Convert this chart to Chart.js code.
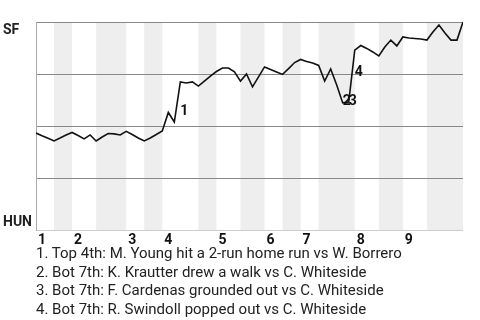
<!DOCTYPE html>
<html>
<head>
<meta charset="utf-8">
<script src="https://cdn.jsdelivr.net/npm/chart.js@4/dist/chart.umd.min.js"></script>
<style>
body { margin: 0; background: #fff; font-family: Roboto, sans-serif; }
#wrap { position: relative; width: 480px; height: 250px; }
#notes { position: absolute; top: 244px; left: 36px; font-size: 15px; line-height: 18.5px; color: #222; white-space: nowrap; }
</style>
</head>
<body>
<div id="wrap"><canvas id="wpchart" width="480" height="250"></canvas></div>
<div id="notes"></div>
<script>
// SF win probability (%) after each plate appearance, 0 = game start
var winProb = [
  46.6, 45.3, 44.1, 42.8, 44.2, 45.7, 46.9, 45.4, 43.8, 45.7,
  42.8, 44.7, 46.4, 46.2, 45.7, 47.4, 45.9, 44.2, 42.8, 44.2,
  45.9, 47.6, 56.5, 51.9, 71.2, 70.7, 71.2, 69.2, 71.6, 74.0,
  76.2, 77.9, 77.9, 76.0, 71.6, 75.0, 68.8, 73.6, 78.4, 77.2,
  76.0, 74.8, 77.6, 80.5, 82.0, 81.0, 80.3, 79.1, 71.6, 77.4,
  69.7, 61.1, 61.5, 86.5, 88.7, 87.3, 85.6, 83.7, 88.0, 91.3,
  88.5, 92.8, 92.3, 92.1, 91.8, 91.3, 95.2, 98.6, 94.7, 91.3,
  91.3, 100
]
// plate appearance index where each half inning starts (last = game end)
var halfInnings = [0, 3, 6, 10, 15, 18, 21, 27, 30, 34, 38, 41, 44, 47, 53, 57, 61, 65, 71]
var inningLabels = ['1', '2', '3', '4', '5', '6', '7', '8', '9']
var teams = ['SF', 'HUN']

var eventIdx = [24, 51, 52, 53]
var eventLabelY = [55.3, 60.3, 60.3, 74.0]
var eventText = [
  'Top 4th: M. Young hit a 2-run home run vs W. Borrero',
  'Bot 7th: K. Krautter drew a walk vs C. Whiteside',
  'Bot 7th: F. Cardenas grounded out vs C. Whiteside',
  'Bot 7th: R. Swindoll popped out vs C. Whiteside'
]

var points = []
for (var i = 0; i < winProb.length; i++) {
  points.push({x: i, y: winProb[i]})
}

var gamePlugin = {
  id: 'game',
  beforeDraw: function(chart) {
    var ctx = chart.ctx, a = chart.chartArea, xs = chart.scales.x
    ctx.save()
    ctx.fillStyle = '#eeeeee'
    // bottom halves are shaded
    for (var i = 1; i < halfInnings.length - 1; i += 2) {
      var x0 = xs.getPixelForValue(halfInnings[i])
      var x1 = xs.getPixelForValue(halfInnings[i + 1])
      ctx.fillRect(x0, a.top, x1 - x0, a.bottom - a.top)
    }
    ctx.restore()
  },
  afterDraw: function(chart) {
    var ctx = chart.ctx, a = chart.chartArea, xs = chart.scales.x, ys = chart.scales.y
    ctx.save()
    ctx.textAlign = 'left'
    ctx.textBaseline = 'alphabetic'
    ctx.fillStyle = '#222'
    ctx.font = 'bold 14px Roboto'
    ctx.fillText(teams[0], 3, a.top + 12)
    ctx.fillText(teams[1], 3, a.bottom - 4)

    ctx.fillStyle = '#111'
    for (var i = 0; i < inningLabels.length; i++) {
      ctx.fillText(inningLabels[i], xs.getPixelForValue(halfInnings[i * 2]) + 2, a.bottom + 14)
    }
    for (var k = 0; k < eventIdx.length; k++) {
      ctx.fillText(String(k + 1), xs.getPixelForValue(eventIdx[k]), ys.getPixelForValue(eventLabelY[k]))
    }
    ctx.restore()
  }
}

var ctx = document.getElementById('wpchart').getContext('2d')
new Chart(ctx, {
  type: 'line',
  data: {
    datasets: [{
      data: points,
      borderColor: '#111',
      borderWidth: 1.6,
      pointRadius: 0,
      tension: 0,
      fill: false
    }]
  },
  options: {
    responsive: false,
    animation: false,
    devicePixelRatio: 1,
    layout: { padding: { left: 36, right: 17, top: 22, bottom: 20 } },
    plugins: { legend: { display: false }, tooltip: { enabled: false } },
    scales: {
      x: { type: 'linear', min: 0, max: winProb.length - 1, display: false },
      y: {
        min: 0, max: 100,
        ticks: { display: false, stepSize: 25 },
        grid: {
          drawTicks: false,
          color: function(c) { return c.tick && c.tick.value === 0 ? '#cccccc' : '#888888' }
        },
        border: { color: '#aaaaaa' }
      }
    }
  },
  plugins: [gamePlugin]
})

document.getElementById('notes').innerHTML = eventText.map(function(t, i) {
  return (i + 1) + '. ' + t
}).join('<br>')
</script>
</body>
</html>
